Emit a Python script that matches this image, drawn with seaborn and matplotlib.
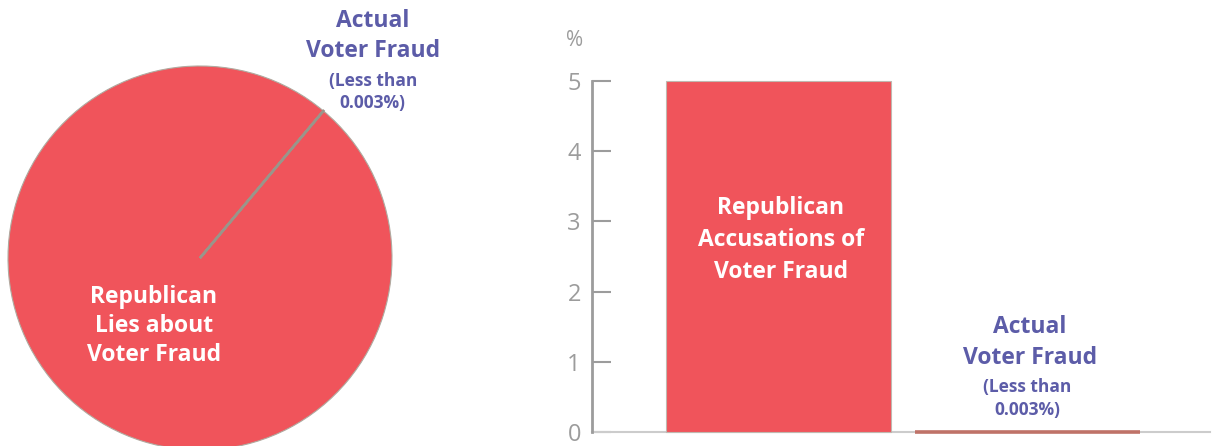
import matplotlib
matplotlib.use("Agg")
import matplotlib.pyplot as plt
import seaborn as sns

# data
pie_labels = ["Actual Voter Fraud", "Republican Lies about Voter Fraud"]
pie_values = [0.003, 99.997]
bar_cats = ["Republican Accusations of Voter Fraud", "Actual Voter Fraud"]
bar_values = [5, 0.003]
y_ticks = [0, 1, 2, 3, 4, 5]

RED = "#f0545b"
BROWN = "#bf7268"
PURPLE = "#5c5ca8"
GREY = "#9c9c9c"

sns.set_style("white")
plt.rcParams['font.family'] = ['Open Sans', 'DejaVu Sans']

fig = plt.figure(figsize=(12.13, 4.46), dpi=100)

# ---- pie ----
W, H = 1213, 446
ax1 = fig.add_axes([8 / W, (446 - 450) / H, 384 / W, 384 / H])
wedges, _ = ax1.pie(pie_values, colors=["#9a958a", RED], startangle=50,
                    counterclock=True, radius=1,
                    wedgeprops=dict(edgecolor="#b0aaa0", linewidth=0.8))
wedges[0].set_linewidth(1.8)
wedges[0].set_edgecolor("#9a958a")
wedges[0].set_zorder(3)
ax1.set_xlim(-1, 1)
ax1.set_ylim(-1, 1)
ax1.set_aspect("equal")
ax1.axis("off")

BIG = 16.5
SMALL = 12.5
ax1.text(-0.24, -0.354, "Republican\nLies about\nVoter Fraud", color="white",
         fontsize=BIG, fontweight="bold", ha="center", va="center", linespacing=1.3)
ax1.text(0.9, 1.156, "Actual\nVoter Fraud", color=PURPLE, fontsize=BIG,
         fontweight="bold", ha="center", va="center", linespacing=1.38)
ax1.text(0.9, 0.865, "(Less than\n0.003%)", color=PURPLE, fontsize=SMALL,
         fontweight="bold", ha="center", va="center", linespacing=1.3)

# ---- bars ----
ax2 = fig.add_axes([592 / W, (446 - 432) / H, 618 / W, 351 / H])
sns.barplot(x=bar_cats, y=bar_values, hue=bar_cats, palette=[RED, BROWN],
            legend=False, width=0.9, ax=ax2, saturation=1)
for p, ec, lw in zip(ax2.patches, ["#c0b8b0", BROWN], [0.8, 2.6]):
    p.set_edgecolor(ec)
    p.set_linewidth(lw)
    p.set_zorder(5)
    p.set_clip_on(False)
ax2.set_xlim(-0.749, 1.733)
ax2.set_ylim(0, 5)
ax2.set_xticks([])
ax2.set_yticks(y_ticks)
ax2.set_yticklabels([str(t) for t in y_ticks])
ax2.tick_params(axis="y", direction="in", length=14, width=1.5, color=GREY,
                labelcolor=GREY, labelsize=17, pad=8, left=True)
ax2.set_xlabel("")
ax2.set_ylabel("")
for s in ["top", "right"]:
    ax2.spines[s].set_visible(False)
ax2.spines["left"].set_color(GREY)
ax2.spines["left"].set_linewidth(2)
ax2.spines["bottom"].set_color("#cccccc")
ax2.spines["bottom"].set_linewidth(1.5)
ax2.spines["left"].set_zorder(6)

ax2.text(-0.82, 5.58, "%", color=GREY, fontsize=15, ha="center", va="center")
ax2.text(0.01, 2.735, "Republican\nAccusations of\nVoter Fraud", color="white",
         fontsize=BIG, fontweight="bold", ha="center", va="center",
         linespacing=1.42, zorder=8)
ax2.text(1.01, 1.28, "Actual\nVoter Fraud", color=PURPLE, fontsize=BIG,
         fontweight="bold", ha="center", va="center", linespacing=1.38, zorder=8)
ax2.text(1.0, 0.477, "(Less than\n0.003%)", color=PURPLE, fontsize=SMALL,
         fontweight="bold", ha="center", va="center", linespacing=1.3, zorder=8)

fig.savefig("out.png", dpi=100)
